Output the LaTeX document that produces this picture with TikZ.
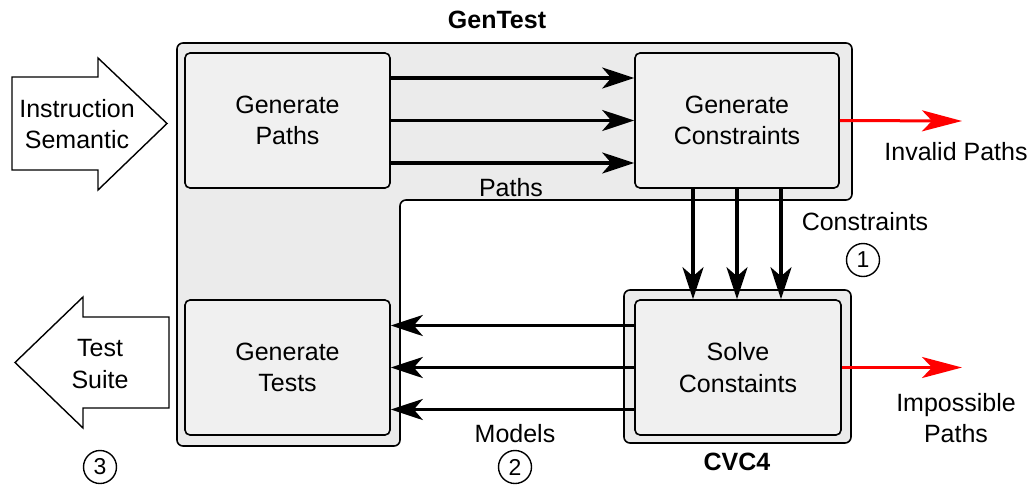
\documentclass[tikz,border=0pt]{standalone}
\usepackage{fontspec}
\setmainfont{Liberation Sans}
\usetikzlibrary{arrows.meta}
\definecolor{outerfill}{HTML}{EBEBEB}
\definecolor{innerfill}{HTML}{F0F0F0}
\definecolor{redarr}{HTML}{FF0000}
\tikzset{
  lbl/.style={font=\fontsize{25}{31.5}\selectfont, align=center, inner sep=0pt},
  boldlbl/.style={font=\fontsize{25}{30}\selectfont\bfseries, inner sep=0pt},
  box/.style={draw=black, line width=1.6pt, fill=innerfill, rounded corners=5pt,
    minimum width=205pt, minimum height=135pt, align=center,
    font=\fontsize{25}{31.5}\selectfont, inner sep=0pt},
  container/.style={draw=black, line width=1.6pt, fill=outerfill, rounded corners=6pt},
  blk/.style={line width=3.5pt, -{Stealth[length=32pt,width=21pt,inset=9pt]}},
  redarrow/.style={draw=redarr, line width=3pt, -{Stealth[length=40pt,width=21pt,inset=10pt]}},
  bigarrow/.style={draw=black, line width=1.4pt, fill=white, line join=miter},
  num/.style={draw=black, line width=1.4pt, circle, minimum size=33pt, inner sep=0pt,
    font=\fontsize{23}{23}\selectfont},
}
\begin{document}
\begin{tikzpicture}[x=1pt,y=-1pt]
\useasboundingbox (0,0) rectangle (1034,488);
% GenTest container (L shape)
\draw[container] (177,43) -- (852,43) -- (852,200) -- (400,200) -- (400,446) -- (177,446) -- cycle;
\node[boldlbl] (gentestlbl) at (497,20) {GenTest};
% CVC4 container
\node[container, minimum width=227pt, minimum height=153pt, inner sep=0pt] (cvc) at (737.5,366.5) {};
\node[boldlbl] (cvclbl) at (737,462) {CVC4};
% boxes
\node[box] (gp) at (287.5,120.5) {Generate\\Paths};
\node[box, minimum width=204pt] (gc) at (737,120.5) {Generate\\Constraints};
\node[box] (gt) at (287.5,367.5) {Generate\\Tests};
\node[box, minimum width=206pt] (sc) at (738,367.5) {Solve\\Constaints};
% paths arrows
\foreach \dy in {-42.5,0,42.5}
  \draw[blk] ([yshift=-\dy pt]gp.east) -- ([yshift=-\dy pt]gc.west);
\node[lbl] (pathslbl) at (511,188) {Paths};
% constraints arrows
\foreach \dx in {-44,0,44}
  \draw[blk] ([xshift=\dx pt]gc.south) -- ([xshift=\dx pt]gc.south |- sc.north);
\node[lbl] (conslbl) at (865,222) {Constraints};
\node[num] (n1) at (863,260) {1};
% models arrows
\foreach \dy in {-42,0,42}
  \draw[blk] ([yshift=-\dy pt]sc.west) -- ([yshift=-\dy pt]gt.east);
\node[lbl] (modlbl) at (515,434) {Models};
\node[num] (n2) at (515,467) {2};
\node[num] (n3) at (100,467) {3};
% red arrows
\coordinate (inv) at (962,121);
\coordinate (imp) at (962,367.5);
\draw[redarrow] (gc.east) -- (inv);
\draw[redarrow] (sc.east) -- (imp);
\node[lbl] (invlbl) at (956,152) {Invalid Paths};
\node[lbl] (implbl) at (956,418) {Impossible\\Paths};
% block arrows
\draw[bigarrow] (12,77) -- (98,77) -- (98,58) -- (167,123.5) -- (98,190) -- (98,170) -- (12,170) -- cycle;
\node[lbl] (instr) at (77,124) {Instruction\\Semantic};
\draw[bigarrow] (169,317) -- (83,317) -- (83,297) -- (15,362.5) -- (83,428) -- (83,408) -- (169,408) -- cycle;
\node[lbl] (suite) at (100,364) {Test\\Suite};
\end{tikzpicture}
\end{document}
